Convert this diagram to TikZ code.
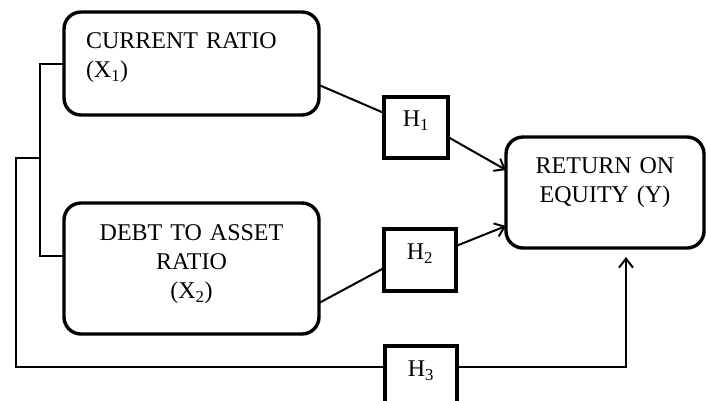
\documentclass[tikz,border=0pt]{standalone}
\usepackage{fontspec}
\setmainfont{Liberation Serif}
\usetikzlibrary{positioning,arrows.meta}

\begin{document}
\begin{tikzpicture}[x=1pt,y=-1pt,
  vbox/.style={draw, line width=3.4pt, rounded corners=17pt, inner ysep=4pt,
               outer sep=0pt, font=\fontsize{24}{29}\selectfont},
  hbox/.style={draw, line width=3.4pt, inner xsep=0pt, inner ysep=4pt,
               outer sep=0pt, align=center,
               font=\fontsize{24}{29}\selectfont},
  lift/.style={execute at end node={\endgraf\kern#1}},
  link/.style={line width=2pt},
  arr/.style={-{Straight Barb[length=9pt,width=14pt]}, line width=2pt}]
  \useasboundingbox (0,0) rectangle (706,400);
  % variable boxes
  \node[vbox, text width=211pt, inner xsep=22pt, align=left,
        minimum height=103pt, lift=12pt] (x1) at (191.5,63.5)
        {CURRENT RATIO\\(X\textsubscript{1})};
  \node[vbox, text width=211pt, inner xsep=22pt, align=center,
        minimum height=131pt, lift=9pt, below=88pt of x1] (x2)
        {DEBT TO ASSET\\RATIO\\(X\textsubscript{2})};
  % hypothesis boxes
  \node[hbox, text width=64pt, minimum height=61pt, lift=13pt,
        right=65pt of x1, yshift=-64pt] (h1) {H\textsubscript{1}};
  \node[hbox, text width=72pt, minimum height=62pt, lift=13pt,
        right=65pt of x2, yshift=8.5pt] (h2) {H\textsubscript{2}};
  \node[hbox, text width=72pt, minimum height=62pt, lift=13pt,
        below=55pt of h2, xshift=1pt] (h3) {H\textsubscript{3}};
  \node[vbox, text width=178pt, inner xsep=10pt, align=center,
        minimum height=111pt, lift=20pt,
        right=58pt of h1, yshift=-65pt] (y) {RETURN ON\\EQUITY (Y)};
  % connectors
  \draw[link] ([yshift=-21.5pt]x1.east) -- ([yshift=14.5pt]h1.west);
  \draw[arr]  ([yshift=-9.5pt]h1.east) -- ([yshift=22.5pt]y.west);
  \draw[link] ([yshift=-34.5pt]x2.east) -- ([yshift=-8pt]h2.west);
  \draw[arr]  ([yshift=14pt]h2.east) -- ([yshift=-33.5pt]y.west);
  \draw[link] (x1.west) -- ++(-24pt,0) |- ([yshift=13pt]x2.west);
  \coordinate (fork) at (40,158);
  \draw[link] (fork) -- ++(-24pt,0) |- ([yshift=10pt]h3.west);
  \draw[arr]  ([yshift=10pt]h3.east) -| ([xshift=21pt,yshift=-9pt]y.south);
\end{tikzpicture}
\end{document}
